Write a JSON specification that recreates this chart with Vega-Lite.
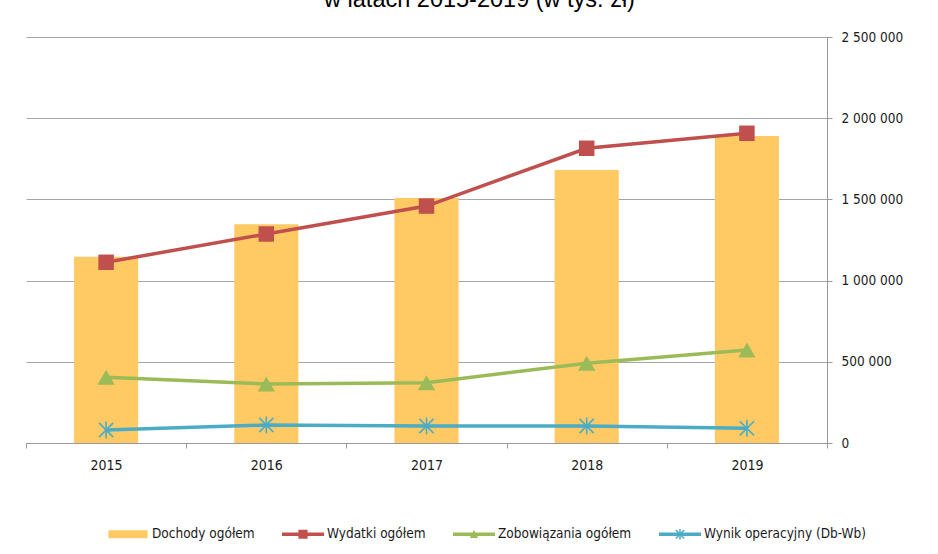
{
  "$schema": "https://vega.github.io/schema/vega-lite/v6.json",
  "width": 801,
  "height": 406,
  "autosize": {"type": "none"},
  "padding": {"left": 26, "top": 37, "right": 111, "bottom": 111},
  "background": "white",
  "config": {
    "view": {"stroke": null},
    "font": "DejaVu Sans Condensed, Liberation Sans, sans-serif"
  },
  "title": {
    "text": "w latach 2015-2019 (w tys. zł)",
    "font": "Liberation Sans",
    "fontSize": 23.5,
    "fontWeight": "normal",
    "color": "#000000",
    "anchor": "middle",
    "frame": "group",
    "baseline": "alphabetic",
    "offset": 0,
    "dx": 53
  },
  "data": {
    "values": [
      {"year": "2015", "series": "Dochody ogółem", "value": 1147000},
      {"year": "2016", "series": "Dochody ogółem", "value": 1346800},
      {"year": "2017", "series": "Dochody ogółem", "value": 1508700},
      {"year": "2018", "series": "Dochody ogółem", "value": 1681000},
      {"year": "2019", "series": "Dochody ogółem", "value": 1890500},
      {"year": "2015", "series": "Wydatki ogółem", "value": 1112800},
      {"year": "2016", "series": "Wydatki ogółem", "value": 1287000},
      {"year": "2017", "series": "Wydatki ogółem", "value": 1459000},
      {"year": "2018", "series": "Wydatki ogółem", "value": 1814800},
      {"year": "2019", "series": "Wydatki ogółem", "value": 1907100},
      {"year": "2015", "series": "Zobowiązania ogółem", "value": 404600},
      {"year": "2016", "series": "Zobowiązania ogółem", "value": 363300},
      {"year": "2017", "series": "Zobowiązania ogółem", "value": 371300},
      {"year": "2018", "series": "Zobowiązania ogółem", "value": 490800},
      {"year": "2019", "series": "Zobowiązania ogółem", "value": 572700},
      {"year": "2015", "series": "Wynik operacyjny (Db-Wb)", "value": 80000},
      {"year": "2016", "series": "Wynik operacyjny (Db-Wb)", "value": 110800},
      {"year": "2017", "series": "Wynik operacyjny (Db-Wb)", "value": 104700},
      {"year": "2018", "series": "Wynik operacyjny (Db-Wb)", "value": 104700},
      {"year": "2019", "series": "Wynik operacyjny (Db-Wb)", "value": 90500}
    ]
  },
  "encoding": {
    "x": {
      "field": "year",
      "type": "ordinal",
      "scale": {"paddingInner": 0, "paddingOuter": 0},
      "axis": {
        "title": null,
        "labelAngle": 0,
        "tickBand": "extent",
        "tickSize": 5,
        "domainColor": "#999999",
        "tickColor": "#999999",
        "labelFontSize": 14,
        "labelColor": "#1a1a1a",
        "labelPadding": 10,
        "grid": false
      }
    },
    "y": {
      "field": "value",
      "type": "quantitative",
      "scale": {"domain": [0, 2500000], "nice": false},
      "axis": {
        "title": null,
        "orient": "right",
        "values": [0, 500000, 1000000, 1500000, 2000000, 2500000],
        "grid": true,
        "gridColor": "#a6a6a6",
        "gridWidth": 1,
        "domainColor": "#999999",
        "tickColor": "#999999",
        "tickSize": 5,
        "labelFontSize": 13.5,
        "labelColor": "#1a1a1a",
        "labelPadding": 9,
        "labelExpr": "replace(format(datum.value, ','), regexp(',', 'g'), ' ')"
      }
    }
  },
  "layer": [
    {
      "transform": [{"filter": "datum.series === 'Dochody ogółem'"}],
      "mark": {"type": "point", "filled": true, "size": 20, "opacity": 1},
      "encoding": {
        "y": {"datum": 500000, "type": "quantitative"},
        "fill": {
          "field": "series",
          "type": "nominal",
          "scale": {
            "domain": ["Dochody ogółem", "Wydatki ogółem", "Zobowiązania ogółem", "Wynik operacyjny (Db-Wb)"],
            "range": ["#FFCA64", "#C0504D", "#9BBB59", "#4BACC6"]
          },
          "legend": {
            "title": null,
            "orient": "none",
            "legendX": 81,
            "legendY": 476,
            "direction": "horizontal",
            "columns": 4,
            "columnPadding": 27,
            "symbolSize": 1764,
            "symbolOpacity": 1,
            "symbolStrokeWidth": 0,
            "labelOffset": 3,
            "labelFontSize": 13.5,
            "labelColor": "#1a1a1a",
            "labelLimit": 300,
            "padding": 0
          }
        },
        "shape": {
          "field": "series",
          "type": "nominal",
          "scale": {
            "domain": ["Dochody ogółem", "Wydatki ogółem", "Zobowiązania ogółem", "Wynik operacyjny (Db-Wb)"],
            "range": [
              "M-0.93,-0.19H0.93V0.19H-0.93Z",
              "M-1,-0.08H1V0.08H-1Z M-0.22,-0.22H0.22V0.22H-0.22Z",
              "M-1,-0.08H1V0.08H-1Z M-0.2,0.18L0,-0.2L0.2,0.18Z",
              "M-1,-0.08H1V0.08H-1Z M-0.035,-0.25H0.035V0.25H-0.035Z M-0.175,-0.225L0.225,0.175L0.175,0.225L-0.225,-0.175Z M-0.225,0.175L0.175,-0.225L0.225,-0.175L-0.175,0.225Z"
            ]
          }
        }
      }
    },
    {
      "transform": [{"filter": "datum.series === 'Dochody ogółem'"}],
      "mark": {"type": "bar", "color": "#FFCA64", "width": {"band": 0.4}}
    },
    {
      "transform": [{"filter": "datum.series !== 'Dochody ogółem'"}],
      "mark": {"type": "line", "strokeWidth": 3.5},
      "encoding": {
        "color": {
          "field": "series",
          "type": "nominal",
          "scale": {
            "domain": ["Wydatki ogółem", "Zobowiązania ogółem", "Wynik operacyjny (Db-Wb)"],
            "range": ["#C0504D", "#9BBB59", "#4BACC6"]
          },
          "legend": null
        }
      }
    },
    {
      "transform": [{"filter": "datum.series === 'Wydatki ogółem'"}],
      "mark": {"type": "point", "shape": "square", "filled": true, "opacity": 1, "color": "#C0504D", "size": 240}
    },
    {
      "transform": [{"filter": "datum.series === 'Zobowiązania ogółem'"}],
      "mark": {"type": "point", "shape": "triangle-up", "filled": true, "opacity": 1, "color": "#9BBB59", "size": 300}
    },
    {
      "transform": [{"filter": "datum.series === 'Wynik operacyjny (Db-Wb)'"}],
      "mark": {"type": "point", "shape": "M-1,-1L1,1M-1,1L1,-1M0,-1.2L0,1.2", "filled": false, "opacity": 1, "color": "#4BACC6", "strokeWidth": 1.6, "size": 200}
    }
  ]
}
